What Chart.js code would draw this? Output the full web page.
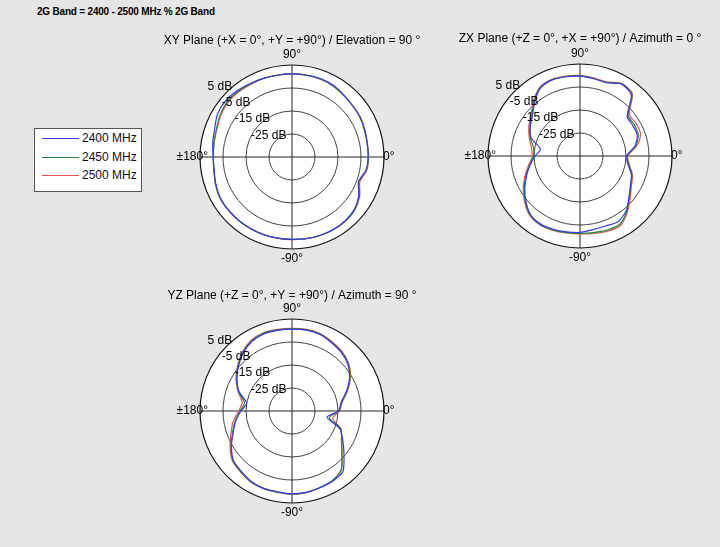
<!DOCTYPE html>
<html>
<head>
<meta charset="utf-8">
<script src="https://cdn.jsdelivr.net/npm/chart.js@4.4.1/dist/chart.umd.min.js"></script>
<style>
  body { margin: 0; background: #e6e6e6; font-family: "Liberation Sans", Arial, sans-serif; }
  #page { position: relative; width: 720px; height: 547px; overflow: hidden; }
  #band { position: absolute; left: 37px; top: 6px; font-weight: bold; font-size: 10px; letter-spacing: -0.2px; color: #000; white-space: nowrap; }
  #legend { position: absolute; left: 34px; top: 128px; width: 106px; height: 62px; background: #fff; border: 1px solid #555; }
  .row { position: absolute; left: 0; height: 16px; font-size: 12px; color: #111; }
  .row span.sw { position: absolute; left: 7px; top: 8px; width: 37px; height: 0; border-top: 1px solid; }
  .row span.tx { position: absolute; left: 47px; top: 0; white-space: nowrap; line-height: 16px; }
  canvas { position: absolute; }
</style>
</head>
<body>
<div id="page">
  <div id="band">2G Band = 2400 - 2500 MHz % 2G Band</div>
  <div id="legend"></div>
  <canvas id="plano-xy" width="300" height="249" style="left:142px;top:25px"></canvas>
  <canvas id="plano-zx" width="270" height="250" style="left:445px;top:23px"></canvas>
  <canvas id="plano-yz" width="300" height="248" style="left:142px;top:280px"></canvas>
</div>
<script>
  // angles in degrees, counter-clockwise from +0° (right), 10° step
  const angulos = [0, 10, 20, 30, 40, 50, 60, 70, 80, 90, 100, 110, 120, 130, 140, 150, 160, 170,
                   180, 190, 200, 210, 220, 230, 240, 250, 260, 270, 280, 290, 300, 310, 320, 330, 340, 350];
  const series = ['2400 MHz', '2450 MHz', '2500 MHz'];
  const cores = ['rgb(60, 60, 215)', 'rgb(40, 135, 70)', 'rgb(225, 85, 85)'];
  const ticksDb = [5, -5, -15, -25];

  // gain in dB
  const xy2400 = [-1.9, -1.8, -1.4, -0.8, -0.5, 0.1, 1.0, 1.3, 1.2, 1.1, 1.1, 1.4, 1.8, 2.5, 2.8, 2.4, 0.8, 0.0,
                  -0.7, -0.6, 0.2, 0.9, 1.0, 1.0, 0.9, 0.9, 0.8, 0.8, 1.0, 1.2, 1.3, 1.1, 0.4, -1.5, -4.2, -2.3];
  const xy2450 = [-1.8, -1.8, -1.3, -0.7, -0.5, 0.0, 0.7, 1.1, 1.1, 1.1, 1.1, 1.4, 1.6, 2.0, 2.0, 1.2, 0.0, -0.5,
                  -0.8, -0.6, 0.3, 1.0, 1.0, 1.0, 1.0, 1.0, 0.8, 0.8, 1.0, 1.2, 1.3, 1.2, 0.6, -1.2, -4.0, -2.2];
  const xy2500 = [-1.7, -1.7, -1.2, -0.6, -0.4, 0.0, 0.7, 1.0, 1.1, 1.2, 1.2, 1.3, 1.3, 1.6, 1.6, 0.8, -0.2, -0.6,
                  -0.8, -0.5, 0.4, 1.1, 1.1, 1.1, 1.0, 1.0, 0.9, 0.9, 1.1, 1.3, 1.4, 1.3, 0.7, -1.0, -3.6, -2.0];

  const zx2400 = [-14.8, -10.8, -8.5, -8.5, -8.2, -0.3, 1.1, -1.1, -0.9, -0.3, 0.0, 0.2, -0.8, -4.3, -8.0, -10.0, -12.5, -17.5,
                  -15.5, -13.0, -10.3, -7.3, -4.3, -1.6, -0.8, -1.1, -1.5, -1.8, -2.5, -2.6, -2.0, -3.8, -7.2, -9.7, -11.2, -13.8];
  const zx2450 = [-14.5, -10.5, -8.0, -7.8, -7.7, 0.0, 1.2, -1.0, -0.8, -0.2, 0.1, 0.3, -0.6, -4.0, -7.7, -9.8, -12.0, -14.5,
                  -14.8, -12.8, -10.0, -7.0, -4.0, -1.4, -0.5, -0.8, -1.2, -1.4, -1.2, -0.7, -0.6, -3.4, -7.0, -9.5, -11.0, -13.5];
  const zx2500 = [-14.2, -10.0, -7.0, -6.8, -7.0, 0.4, 1.4, -0.7, -0.5, 0.0, 0.3, 0.5, -0.3, -3.6, -7.2, -9.3, -11.5, -13.5,
                  -14.3, -12.3, -9.5, -6.5, -3.6, -1.1, -0.3, -0.6, -1.0, -1.1, -0.8, -0.2, 0.0, -3.0, -6.5, -9.2, -10.7, -13.2];

  const yz2400 = [-14.8, -13.3, -9.8, -6.1, -3.3, -1.7, -0.7, 0.4, 0.7, 0.6, 0.6, 0.7, -0.1, -2.0, -4.6, -7.4, -10.5, -15.0,
                  -12.8, -10.2, -7.8, -4.6, -1.7, -0.7, 0.4, 0.8, 0.7, 1.0, 0.9, 0.5, 0.3, -0.6, -5.5, -9.5, -13.0, -19.5];
  const yz2450 = [-14.6, -13.1, -9.6, -5.9, -3.1, -1.5, -0.5, 0.6, 0.8, 0.7, 0.8, 1.1, 0.2, -1.8, -4.4, -7.2, -10.3, -14.0,
                  -12.4, -9.9, -7.5, -4.4, -1.5, -0.5, 0.6, 0.9, 0.8, 1.1, 0.9, 0.4, 0.0, -1.6, -6.6, -10.0, -12.5, -18.5];
  const yz2500 = [-14.3, -12.8, -9.3, -5.6, -2.8, -1.2, -0.2, 0.8, 1.0, 0.9, 1.0, 1.2, 0.5, -1.5, -4.1, -6.9, -10.0, -13.0,
                  -11.8, -9.0, -6.8, -3.9, -1.2, -0.3, 0.7, 1.0, 0.9, 1.2, 1.0, 0.5, 0.0, -1.8, -6.8, -10.2, -12.3, -17.0];

  const fonte = '"Liberation Sans", Arial, sans-serif';

  // radar runs clockwise, the pattern counter-clockwise: index i -> angle -10*i
  function ordemRadar(arr) {
    return arr.map((v, i) => arr[(arr.length - i) % arr.length]);
  }
  const rotulos = ordemRadar(angulos).map(a => String(a));

  // angle labels and dB labels drawn off the radial scale
  const rotulosPolares = {
    id: 'rotulosPolares',
    afterDraw(chart) {
      const s = chart.scales.r;
      const ctx = chart.ctx;
      const R = s.drawingArea;
      const idx = a => rotulos.indexOf(String(a));
      ctx.save();
      ctx.fillStyle = '#000';
      ctx.font = '12px ' + fonte;
      ctx.textBaseline = 'middle';
      let p;
      ctx.textAlign = 'center';
      p = s.getPointPosition(idx(90), R + 10);
      ctx.fillText('90°', p.x, p.y);
      p = s.getPointPosition(idx(270), R + 10);
      ctx.fillText('-90°', p.x, p.y);
      ctx.textAlign = 'left';
      p = s.getPointPosition(idx(0), R - 1);
      ctx.fillText('0°', p.x, p.y);
      ctx.textAlign = 'right';
      p = s.getPointPosition(idx(180), R - 8);
      ctx.fillText('±180°', p.x, p.y);
      ctx.textAlign = 'center';
      ticksDb.forEach(v => {
        const r = s.getDistanceFromCenterForValue(v) * Math.SQRT1_2;
        ctx.fillText(v + ' dB', s.xCenter - r - 7, s.yCenter - r - 5.5);
      });
      ctx.restore();
    }
  };

  function polar(id, titulo, dados, padTitulo) {
    new Chart(document.getElementById(id), {
      type: 'radar',
      data: {
        labels: rotulos,
        datasets: dados.map((d, i) => ({
          label: series[i],
          data: ordemRadar(d),
          borderColor: cores[i],
          borderWidth: 1.2,
          fill: false,
          pointRadius: 0,
          tension: 0.25
        }))
      },
      options: {
        responsive: false,
        animation: false,
        layout: { padding: { bottom: 25 } },
        plugins: {
          legend: { display: false },
          tooltip: { enabled: false },
          title: {
            display: true,
            text: titulo,
            color: '#000',
            font: { family: fonte, size: 12, weight: 'normal' },
            padding: { top: 8, bottom: padTitulo }
          }
        },
        scales: {
          r: {
            min: -35,
            max: 5,
            startAngle: 90,
            backgroundColor: '#fff',
            ticks: { display: false, stepSize: 10 },
            pointLabels: { display: false },
            grid: {
              circular: true,
              color: c => c.index === 0 ? 'rgba(0,0,0,0)' : (c.tick && c.tick.value === 5 ? '#111' : '#444'),
              lineWidth: c => c.tick && c.tick.value === 5 ? 1.2 : 1
            },
            angleLines: {
              color: '#222',
              lineWidth: c => (c.index % 9 === 0) ? 1 : 0
            }
          }
        }
      },
      plugins: [rotulosPolares]
    });
  }

  polar('plano-xy', 'XY Plane (+X = 0°, +Y = +90°) / Elevation = 90 °', [xy2400, xy2450, xy2500], 17.6);
  polar('plano-zx', 'ZX Plane (+Z = 0°, +X = +90°) / Azimuth = 0 °', [zx2400, zx2450, zx2500], 18.6);
  polar('plano-yz', 'YZ Plane (+Z = 0°, +Y = +90°) / Azimuth = 90 °', [yz2400, yz2450, yz2500], 16.6);

  const legenda = document.getElementById('legend');
  series.forEach((nome, i) => {
    const row = document.createElement('div');
    row.className = 'row';
    row.style.top = (1 + i * 18.5) + 'px';
    row.style.width = '100%';
    row.innerHTML = '<span class="sw" style="border-color:' + cores[i] + '"></span><span class="tx">' + nome + '</span>';
    legenda.appendChild(row);
  });
</script>
</body>
</html>
